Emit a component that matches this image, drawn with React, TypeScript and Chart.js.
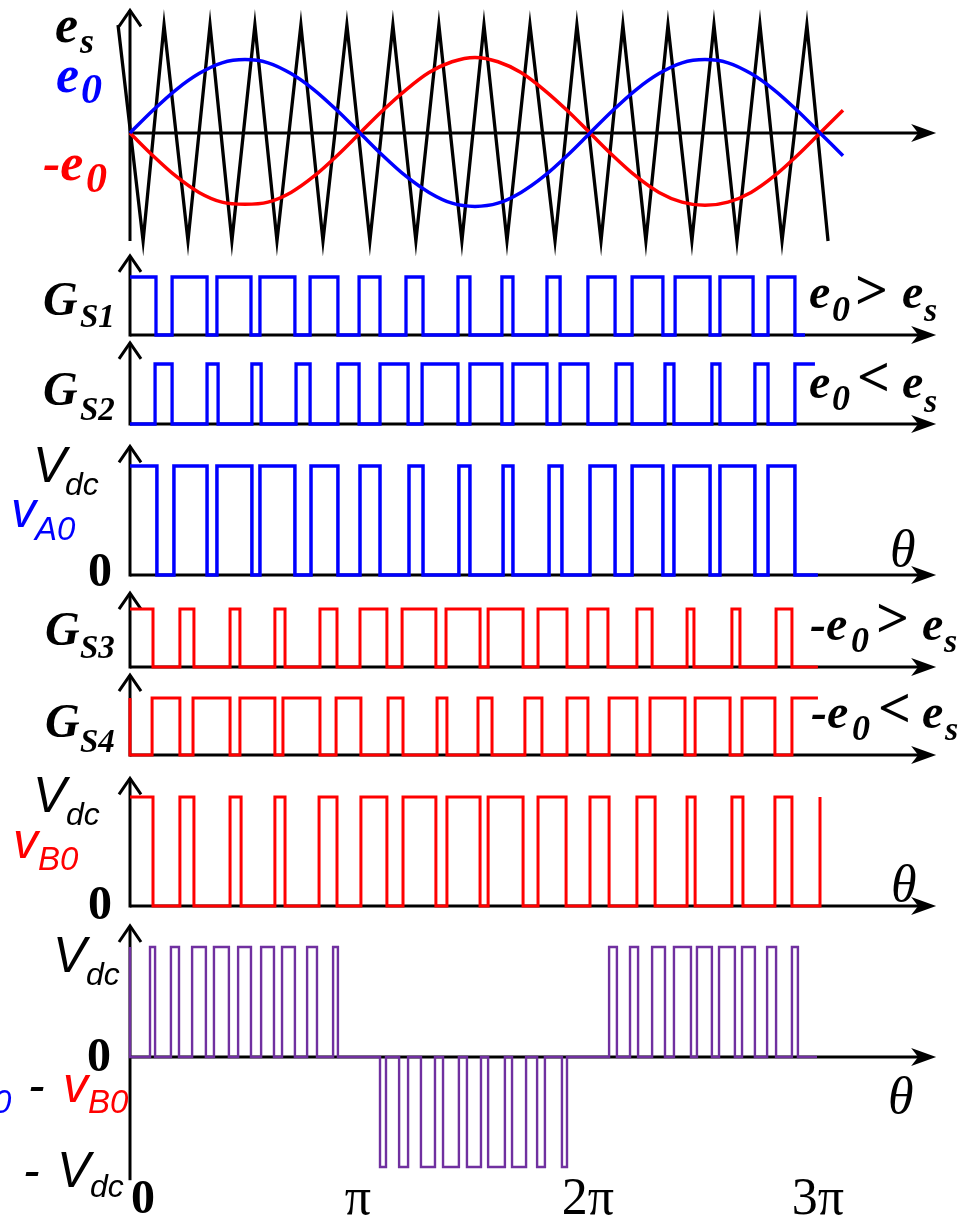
import React, { useEffect, useRef } from 'react';
import { Chart, registerables } from 'chart.js';

Chart.register(...registerables);

const W = 961;
const H = 1219;

// ---------- DATA (theta in units of pi) ----------
const carrierT = [-0.052, 0.057, 0.148, 0.252, 0.348, 0.443, 0.543, 0.639, 0.743, 0.839, 0.943, 1.043, 1.143, 1.243, 1.343, 1.443, 1.539, 1.639, 1.739, 1.848, 1.943, 2.048, 2.143, 2.243, 2.339, 2.443, 2.539, 2.639, 2.739, 2.835, 2.943, 3.035];
const carrierV = [1, -1, 1, -1, 1, -1, 1, -1, 1, -1, 1, -1, 1, -1, 1, -1, 1, -1, 1, -1, 1, -1, 1, -1, 1, -1, 1, -1, 1, -1, 1, -1];

const e0T = [0, 0.1, 0.2, 0.3, 0.4, 0.5, 0.6, 0.7, 0.8, 0.9, 1.0, 1.1, 1.2, 1.3, 1.4, 1.5, 1.6, 1.7, 1.8, 1.9, 2.0, 2.1, 2.2, 2.3, 2.4, 2.5, 2.6, 2.7, 2.8, 2.9, 3.0, 3.1];
const e0V = [0, 0.21, 0.4, 0.55, 0.65, 0.68, 0.65, 0.55, 0.4, 0.21, 0, -0.21, -0.4, -0.55, -0.65, -0.68, -0.65, -0.55, -0.4, -0.21, 0, 0.21, 0.4, 0.55, 0.65, 0.68, 0.65, 0.55, 0.4, 0.21, 0, -0.21];
const negE0V = [0, -0.21, -0.4, -0.55, -0.64, -0.66, -0.64, -0.55, -0.4, -0.21, 0, 0.21, 0.4, 0.56, 0.66, 0.7, 0.66, 0.56, 0.4, 0.21, 0, -0.21, -0.4, -0.55, -0.64, -0.67, -0.64, -0.55, -0.4, -0.21, 0, 0.21];

// gate / pole signals: start level, switching instants, end
const gs1Start = 1;
const gs1Toggles = [0.113, 0.183, 0.335, 0.378, 0.526, 0.565, 0.717, 0.783, 0.904, 0.996, 1.087, 1.2, 1.274, 1.426, 1.478, 1.617, 1.665, 1.813, 1.87, 1.991, 2.109, 2.183, 2.317, 2.37, 2.522, 2.565, 2.709, 2.774, 2.891];
const gs1End = 2.935;

const gs2Start = 0;
const gs2Toggles = [0.109, 0.183, 0.335, 0.383, 0.53, 0.57, 0.722, 0.783, 0.904, 0.996, 1.087, 1.209, 1.27, 1.426, 1.478, 1.617, 1.665, 1.813, 1.87, 1.991, 2.113, 2.183, 2.326, 2.365, 2.53, 2.565, 2.717, 2.774, 2.891];
const gs2End = 2.978;

const va0Start = 1;
const va0Toggles = [0.117, 0.191, 0.335, 0.378, 0.53, 0.565, 0.717, 0.787, 0.904, 1.0, 1.087, 1.213, 1.274, 1.43, 1.478, 1.622, 1.665, 1.822, 1.878, 2.0, 2.109, 2.183, 2.317, 2.365, 2.522, 2.565, 2.717, 2.774, 2.891];
const va0End = 2.991;

const gs3Start = 1;
const gs3Toggles = [0.1, 0.217, 0.278, 0.435, 0.478, 0.63, 0.674, 0.826, 0.9, 1.0, 1.117, 1.183, 1.33, 1.374, 1.522, 1.557, 1.709, 1.774, 1.9, 1.991, 2.078, 2.204, 2.27, 2.422, 2.452, 2.617, 2.652, 2.809, 2.878];
const gs3End = 2.991;

const gs4Start = 1;
const gs4Toggles = [0, 0.096, 0.217, 0.274, 0.435, 0.478, 0.63, 0.665, 0.826, 0.896, 1.004, 1.122, 1.187, 1.335, 1.378, 1.513, 1.574, 1.717, 1.791, 1.9, 1.991, 2.083, 2.204, 2.261, 2.413, 2.457, 2.609, 2.661, 2.804, 2.878];
const gs4End = 2.991;

const vb0Start = 1;
const vb0Toggles = [0.1, 0.217, 0.278, 0.435, 0.483, 0.63, 0.674, 0.822, 0.9, 1.004, 1.117, 1.187, 1.33, 1.378, 1.522, 1.557, 1.709, 1.774, 1.896, 2.0, 2.083, 2.204, 2.283, 2.422, 2.457, 2.617, 2.665, 2.804, 2.878, 3.0];
const vb0End = 3.0;

const vabT = [0, 0, 0.087, 0.109, 0.178, 0.213, 0.27, 0.33, 0.365, 0.43, 0.47, 0.526, 0.57, 0.626, 0.661, 0.717, 0.77, 0.813, 0.883, 0.904,
  1.087, 1.113, 1.17, 1.209, 1.265, 1.326, 1.361, 1.43, 1.465, 1.526, 1.557, 1.63, 1.661, 1.722, 1.77, 1.804, 1.878, 1.9,
  2.083, 2.117, 2.174, 2.209, 2.27, 2.326, 2.365, 2.439, 2.465, 2.53, 2.561, 2.63, 2.661, 2.717, 2.77, 2.809, 2.878, 2.904, 2.987];
const vabL = [1, 0, 1, 0, 1, 0, 1, 0, 1, 0, 1, 0, 1, 0, 1, 0, 1, 0, 1, 0,
  -1, 0, -1, 0, -1, 0, -1, 0, -1, 0, -1, 0, -1, 0, -1, 0, -1, 0,
  1, 0, 1, 0, 1, 0, 1, 0, 1, 0, 1, 0, 1, 0, 1, 0, 1, 0, 0];

const xTickValues = [0, 1, 2, 3];
const xTickLabels = ['0', 'π', '2π', '3π'];

// ---------- LAYOUT ----------
const X_MIN = -0.1;
const X_MAX = 3.5;
const X_ARROW = 3.505;

type Panel = { id: string; base: number; unit: number; axisTop: number; axisBottom: number };
const panels: Panel[] = [
  { id: 'yCar', base: 133, unit: 108, axisTop: 1.145, axisBottom: -1.0 },
  { id: 'yG1', base: 335, unit: 58, axisTop: 1.38, axisBottom: 0 },
  { id: 'yG2', base: 424, unit: 60, axisTop: 1.37, axisBottom: 0 },
  { id: 'yA', base: 575, unit: 109, axisTop: 1.19, axisBottom: 0 },
  { id: 'yG3', base: 667, unit: 58, axisTop: 1.29, axisBottom: 0 },
  { id: 'yG4', base: 755, unit: 57, axisTop: 1.42, axisBottom: 0 },
  { id: 'yB', base: 906, unit: 109, axisTop: 1.18, axisBottom: 0 },
  { id: 'yAB', base: 1057, unit: 110, axisTop: 1.2, axisBottom: -1.12 },
];

const BLUE = '#0000ff';
const RED = '#ff0000';
const PURPLE = '#7030a0';
const BLACK = '#000000';

const SERIF = '"Liberation Serif", "Times New Roman", serif';
const SANS = '"Liberation Sans", Arial, sans-serif';
const fBI = (s: number) => `italic bold ${s}px ${SERIF}`;
const fB = (s: number) => `bold ${s}px ${SERIF}`;
const fI = (s: number) => `italic ${s}px ${SERIF}`;
const fR = (s: number) => `${s}px ${SERIF}`;
const fSI = (s: number) => `italic ${s}px ${SANS}`;

type Run = [string, number, number, string, string];
const labelRuns: Run[] = [
  // top panel
  ['e', 55, 42, fBI(52), BLACK], ['s', 80, 53, fBI(36), BLACK],
  ['e', 56, 92, fBI(52), BLUE], ['0', 81, 103, fBI(42), BLUE],
  ['-e', 43, 180, fBI(52), RED], ['0', 86, 192, fBI(42), RED],
  // gate labels
  ['G', 43, 315, fBI(48), BLACK], ['S1', 80, 327, fBI(33), BLACK],
  ['G', 43, 405, fBI(48), BLACK], ['S2', 80, 420, fBI(33), BLACK],
  ['G', 45, 645, fBI(48), BLACK], ['S3', 80, 658, fBI(33), BLACK],
  ['G', 45, 737, fBI(48), BLACK], ['S4', 80, 752, fBI(33), BLACK],
  // comparisons
  ['e', 809, 308, fBI(48), BLACK], ['0', 832, 321, fBI(36), BLACK], ['>', 855, 309, fB(58), BLACK], ['e', 902, 308, fBI(48), BLACK], ['s', 924, 321, fBI(34), BLACK],
  ['e', 809, 398, fBI(48), BLACK], ['0', 832, 410, fBI(36), BLACK], ['<', 857, 396, fB(58), BLACK], ['e', 902, 398, fBI(48), BLACK], ['s', 924, 412, fBI(34), BLACK],
  ['-e', 810, 640, fBI(48), BLACK], ['0', 851, 652, fBI(36), BLACK], ['>', 876, 637, fB(58), BLACK], ['e', 922, 640, fBI(48), BLACK], ['s', 944, 652, fBI(34), BLACK],
  ['-e', 811, 728, fBI(48), BLACK], ['0', 852, 740, fBI(36), BLACK], ['<', 878, 727, fB(58), BLACK], ['e', 922, 728, fBI(48), BLACK], ['s', 945, 740, fBI(34), BLACK],
  // vA0 panel
  ['V', 33, 482, fSI(50), BLACK], ['dc', 65, 495, fSI(32), BLACK],
  ['v', 11, 527, fSI(50), BLUE], ['A0', 35, 540, fSI(33), BLUE],
  ['0', 88, 586, fB(48), BLACK], ['θ', 890, 566, fI(52), BLACK],
  // vB0 panel
  ['V', 33, 812, fSI(50), BLACK], ['dc', 66, 825, fSI(32), BLACK],
  ['v', 13, 858, fSI(50), RED], ['B0', 38, 870, fSI(33), RED],
  ['0', 88, 919, fB(48), BLACK], ['θ', 891, 901, fI(52), BLACK],
  // vA0 - vB0 panel
  ['V', 53, 972, fSI(50), BLACK], ['dc', 86, 985, fSI(32), BLACK],
  ['0', 87, 1071, fB(48), BLACK],
  ['v', -53, 1102, fSI(50), BLUE], ['A0', -29, 1113, fSI(33), BLUE],
  ['-', 28, 1102, fSI(50), BLACK],
  ['v', 63, 1102, fSI(50), RED], ['B0', 88, 1113, fSI(33), RED],
  ['-', 23, 1187, fSI(50), BLACK], ['V', 57, 1187, fSI(50), BLACK], ['dc', 90, 1197, fSI(32), BLACK],
  ['θ', 888, 1113, fI(52), BLACK],
];

// ---------- helpers ----------
function stepPoints(start: number, toggles: number[], end: number) {
  const pts = [{ x: 0, y: start }];
  let lvl = start;
  for (const t of toggles) {
    lvl = 1 - lvl;
    pts.push({ x: t, y: lvl });
  }
  pts.push({ x: end, y: lvl });
  return pts;
}
const zip = (xs: number[], ys: number[]) => xs.map((x, i) => ({ x, y: ys[i] }));

const axesPlugin = {
  id: 'drawAxes',
  beforeDatasetsDraw(chart: any) {
    const ctx: CanvasRenderingContext2D = chart.ctx;
    const xs = chart.scales.x;
    const x0 = xs.getPixelForValue(0);
    const xe = xs.getPixelForValue(X_ARROW);
    ctx.save();
    ctx.strokeStyle = BLACK;
    ctx.fillStyle = BLACK;
    ctx.lineWidth = 3;
    ctx.lineCap = 'butt';
    ctx.lineJoin = 'miter';
    for (const p of panels) {
      const ys = chart.scales[p.id];
      const yb = ys.getPixelForValue(p.axisBottom);
      const yt = ys.getPixelForValue(p.axisTop);
      const y0 = ys.getPixelForValue(0);
      ctx.beginPath();
      ctx.moveTo(x0, yb + (p.axisBottom === 0 ? 1.5 : 0));
      ctx.lineTo(x0, yt + 1);
      ctx.stroke();
      ctx.beginPath();
      ctx.moveTo(x0 - 11, yt + 17);
      ctx.lineTo(x0, yt + 1);
      ctx.lineTo(x0 + 11, yt + 17);
      ctx.stroke();
      ctx.beginPath();
      ctx.moveTo(x0, y0);
      ctx.lineTo(xe - 12, y0);
      ctx.stroke();
      ctx.beginPath();
      ctx.moveTo(xe, y0);
      ctx.lineTo(xe - 25, y0 - 9);
      ctx.lineTo(xe - 18, y0);
      ctx.lineTo(xe - 25, y0 + 9);
      ctx.closePath();
      ctx.fill();
    }
    ctx.restore();
  },
  afterDraw(chart: any) {
    const ctx: CanvasRenderingContext2D = chart.ctx;
    const xs = chart.scales.x;
    ctx.save();
    ctx.textBaseline = 'alphabetic';
    ctx.textAlign = 'left';
    for (const [t, x, y, font, color] of labelRuns) {
      ctx.font = font;
      ctx.fillStyle = color;
      ctx.fillText(t, x, y);
    }
    // theta tick labels
    ctx.fillStyle = BLACK;
    ctx.textAlign = 'center';
    xTickValues.forEach((v, i) => {
      const px = xs.getPixelForValue(v);
      if (i === 0) {
        ctx.font = fB(48);
        ctx.fillText(xTickLabels[i], px + 13, 1213);
      } else {
        ctx.font = fR(52);
        ctx.fillText(xTickLabels[i], px - 2, 1214);
      }
    });
    ctx.restore();
  },
};

function buildConfig(): any {
  const yScales: any = {};
  for (const p of panels) {
    yScales[p.id] = {
      type: 'linear',
      display: false,
      min: -(H - p.base) / p.unit,
      max: p.base / p.unit,
    };
  }
  const stepDs = (label: string, pts: any[], yAxisID: string, color: string, width: number) => ({
    label,
    data: pts,
    yAxisID,
    borderColor: color,
    borderWidth: width,
    stepped: 'before',
    pointRadius: 0,
    fill: false,
    borderJoinStyle: 'miter',
  });
  return {
    type: 'line',
    data: {
      datasets: [
        { label: 'e0', data: zip(e0T, e0V), yAxisID: 'yCar', borderColor: BLUE, borderWidth: 3.5, cubicInterpolationMode: 'monotone', pointRadius: 0, fill: false },
        { label: '-e0', data: zip(e0T, negE0V), yAxisID: 'yCar', borderColor: RED, borderWidth: 3.5, cubicInterpolationMode: 'monotone', pointRadius: 0, fill: false },
        { label: 'es', data: zip(carrierT, carrierV), yAxisID: 'yCar', borderColor: BLACK, borderWidth: 3.3, tension: 0, pointRadius: 0, fill: false, borderJoinStyle: 'miter' },
        stepDs('GS1', stepPoints(gs1Start, gs1Toggles, gs1End), 'yG1', BLUE, 3.3),
        stepDs('GS2', stepPoints(gs2Start, gs2Toggles, gs2End), 'yG2', BLUE, 3.3),
        stepDs('vA0', stepPoints(va0Start, va0Toggles, va0End), 'yA', BLUE, 3.5),
        stepDs('GS3', stepPoints(gs3Start, gs3Toggles, gs3End), 'yG3', RED, 3),
        stepDs('GS4', stepPoints(gs4Start, gs4Toggles, gs4End), 'yG4', RED, 3),
        stepDs('vB0', stepPoints(vb0Start, vb0Toggles, vb0End), 'yB', RED, 3),
        stepDs('vA0-vB0', zip(vabT, vabL), 'yAB', PURPLE, 2.4),
      ],
    },
    options: {
      responsive: false,
      animation: false,
      events: [],
      layout: { padding: { left: 107, right: W - 935, top: 0, bottom: 0 } },
      plugins: { legend: { display: false }, tooltip: { enabled: false }, title: { display: false } },
      scales: {
        x: { type: 'linear', min: X_MIN, max: X_MAX, display: false },
        ...yScales,
      },
    },
    plugins: [axesPlugin],
  };
}

export default function App() {
  const ref = useRef<HTMLCanvasElement>(null);
  useEffect(() => {
    if (!ref.current) return;
    const chart = new Chart(ref.current, buildConfig());
    return () => chart.destroy();
  }, []);
  return (
    <div style={{ position: 'absolute', left: 0, top: 0, width: W, height: H, background: '#fff', overflow: 'hidden' }}>
      <canvas ref={ref} width={W} height={H} style={{ display: 'block', width: W, height: H }} />
    </div>
  );
}
